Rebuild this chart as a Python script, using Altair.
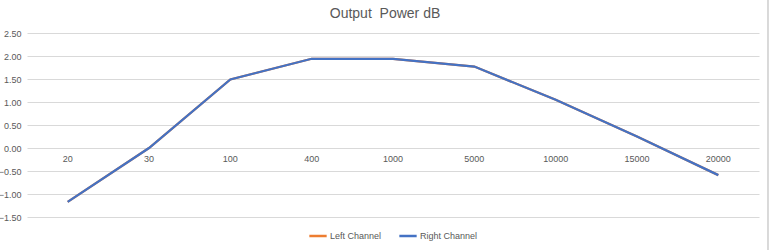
import altair as alt
import pandas as pd

freqs = ["20", "30", "100", "400", "1000", "5000", "10000", "15000", "20000"]
left_db = [-1.17, 0.00, 1.49, 1.94, 1.94, 1.77, 1.05, 0.25, -0.59]
right_db = [-1.17, 0.00, 1.49, 1.94, 1.94, 1.77, 1.05, 0.25, -0.59]
series_names = ["Left Channel", "Right Channel"]
series_colors = ["#ED7D31", "#4472C4"]
y_ticks = [-1.5, -1.0, -0.5, 0.0, 0.5, 1.0, 1.5, 2.0, 2.5]
title_text = "Output\u00a0 Power dB"

rows = []
for name, vals in zip(series_names, [left_db, right_db]):
    for i, (f, v) in enumerate(zip(freqs, vals)):
        rows.append({"freq": f, "db": v, "series": name, "order": i})
df = pd.DataFrame(rows)
lab = pd.DataFrame({"freq": freqs, "db": [0.0] * len(freqs)})

W, H = 732, 184
FONT = "Liberation Sans"
GREY = "#595959"

xscale = alt.Scale(type="point", domain=freqs, padding=0.5)
yscale = alt.Scale(domain=[-1.5, 2.5], nice=False, zero=False)
yaxis = alt.Axis(values=y_ticks, format=".2f", title=None, domain=False, ticks=False,
                 labelPadding=6, labelOverlap=False, labelFontSize=9, labelColor=GREY,
                 labelFont=FONT, gridColor="#d9d9d9", gridWidth=1)

lines = alt.Chart(df).mark_line(strokeWidth=2.25).encode(
    x=alt.X("freq:N", scale=xscale, sort=freqs, axis=None),
    y=alt.Y("db:Q", scale=yscale, axis=yaxis),
    color=alt.Color("series:N", scale=alt.Scale(domain=series_names, range=series_colors),
                    legend=alt.Legend(title=None, orient="none", direction="horizontal",
                                      legendX=281, legendY=193, symbolType="stroke",
                                      symbolStrokeWidth=2.5, symbolSize=300,
                                      labelFontSize=9, labelColor=GREY, labelFont=FONT,
                                      columnPadding=12, labelOffset=2)),
    order="order:Q",
)

labels = alt.Chart(lab).mark_text(fontSize=9, color=GREY, font=FONT, baseline="middle", dy=11).encode(
    x=alt.X("freq:N", scale=xscale, sort=freqs, axis=None),
    y=alt.Y("db:Q", scale=yscale, axis=yaxis),
    text="freq:N",
)

border = alt.Chart(lab).mark_rule(color="#d9d9d9", strokeWidth=1).encode(
    x=alt.value(W + 9), y=alt.value(-33), y2=alt.value(H + 33)
)

title = alt.Chart(pd.DataFrame({"t": [title_text]})).mark_text(
    fontSize=14, font=FONT, color=GREY, baseline="middle", align="center"
).encode(x=alt.value(W / 2 - 8), y=alt.value(-19), text="t:N")

chart = alt.layer(lines, labels, border, title).properties(
    width=W, height=H,
    background="white",
    autosize=alt.AutoSizeParams(type="none"),
    padding={"left": 27, "top": 33, "right": 12, "bottom": 33},
).configure_view(strokeWidth=0)

chart.save("out.html", embed_options={"renderer": "svg", "actions": False})
